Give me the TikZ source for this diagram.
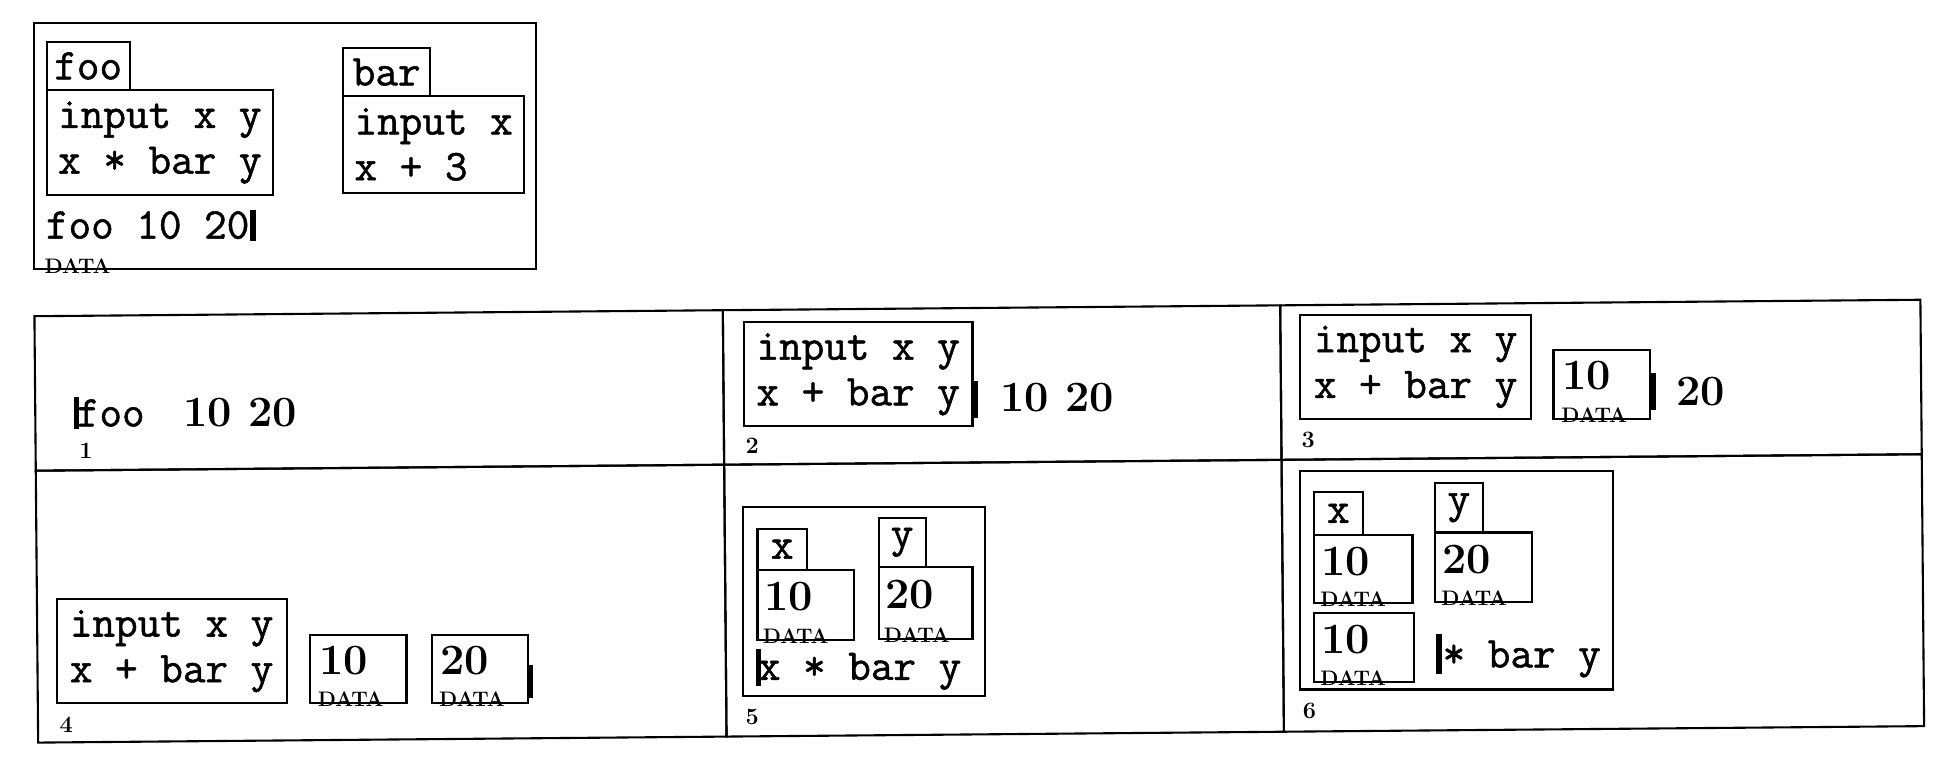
\documentclass[tikz,border=0pt]{standalone}
\usepackage{fontspec}
\usepackage{graphicx}
\newfontfamily\codeff[FakeBold=1.2]{Latin Modern Mono}
\newcommand\codefont{\fontsize{35.5}{37}\selectfont\codeff}
\newcommand\numfont{\fontsize{35}{37}\selectfont\rmfamily\bfseries}
\newcommand\datafont{\fontsize{17}{17}\selectfont\rmfamily\bfseries}
\newcommand\panelfont{\fontsize{19}{19}\selectfont\rmfamily\bfseries}
\newcommand\DATA{DATA}
\tikzset{
  box/.style={draw, line width=1.7pt, anchor=north west, inner sep=0pt, align=left, font=\codefont},
  tx/.style={anchor=base west, inner sep=0pt},
  code/.style={tx, font=\codefont},
  num/.style={tx, font=\numfont},
  dlab/.style={tx, font=\datafont},
  plab/.style={tx, font=\panelfont},
  cursor/.style={fill=black}
}
% \bx[opts]{name}{x1}{y1}{x2}{y2}{text}
\newcommand\bx[7][]{\node[box,#1,minimum width={#5-#3},minimum height={#6-#4}] (#2) at (#3,#4) {#7};}
\begin{document}
\begin{tikzpicture}[x=1pt,y=-1pt]
\useasboundingbox (0,0) rectangle (1568,626);
% ---------------- top box ----------------
\node[dlab] (topdata) at (36,221) {\DATA};
\bx{top}{27}{18}{433}{217}{}
\bx{footab}{37}{33}{104}{72}{foo}
\bx{foobody}{37}{72}{220}{157}{input x y\\x * bar y}
\bx{bartab}{277}{38}{347}{77}{bar}
\bx{barbody}{277}{77}{423}{155}{input x\\x + 3}
\node[code] (topcall) at (37,193) {foo 10 20};
\fill[cursor] (202,170) rectangle (207,195);
% ---------------- grid cells (scan is slightly tilted) ----------------
\begin{scope}[rotate around={0.5:(27,255)}, transform shape]
\bx{c1}{27}{255}{584}{380}{}
\bx{c2}{584}{255}{1035}{380}{}
\bx{c3}{1035}{255}{1553}{380}{}
\bx{c4}{27}{380}{584}{600}{}
\bx{c5}{584}{380}{1035}{600}{}
\bx{c6}{1035}{380}{1553}{600}{}
\end{scope}
% ---------------- panel 1 ----------------
\node[code] (p1foo) at (62,345) {foo};
\node[num] (p1args) at (148,345) {10 20};
\fill[cursor] (60,321) rectangle (64,347);
\node[plab] (p1n) at (64,371) {1};
% ---------------- panel 2 ----------------
\bx{p2body}{601}{260}{786}{344}{input x y\\x + bar y}
\fill[cursor] (786,308) rectangle (791,338);
\node[num] (p2args) at (809,333) {10 20};
\node[plab] (p2n) at (603,367) {2};
% ---------------- panel 3 ----------------
\bx{p3body}{1051}{254}{1238}{338}{input x y\\x + bar y}
\node[num] (p3v) at (1264,315) {10};
\node[dlab] (p3d) at (1263,342) {\DATA};
\bx{p3box}{1256}{282}{1334}{338}{}
\fill[cursor] (1334,302) rectangle (1340,332);
\node[num] (p3arg) at (1356,328) {20};
\node[plab] (p3n) at (1053,362) {3};
% ---------------- panel 4 ----------------
\bx{p4body}{45}{484}{231}{568}{input x y\\x + bar y}
\node[num] (p4v1) at (258,546) {10};
\node[dlab] (p4d1) at (257,572) {\DATA};
\bx{p4box1}{250}{513}{328}{568}{}
\node[num] (p4v2) at (356,546) {20};
\node[dlab] (p4d2) at (355,572) {\DATA};
\bx{p4box2}{349}{513}{426}{568}{}
\fill[cursor] (426,538) rectangle (431,565);
\node[plab] (p4n) at (48,593) {4};
% ---------------- panel 5 ----------------
\bx{p5frame}{600}{409}{796}{562}{}
\bx{p5xtab}{612}{427}{652}{460}{x}
\bx{p5ytab}{710}{418}{748}{458}{y}
\node[num] (p5v1) at (618,494) {10};
\node[dlab] (p5d1) at (617,521) {\DATA};
\bx{p5box1}{612}{460}{690}{517}{}
\node[num] (p5v2) at (716,492) {20};
\node[dlab] (p5d2) at (715,520) {\DATA};
\bx{p5box2}{710}{458}{786}{516}{}
\node[code] (p5expr) at (613,550) {x * bar y};
\fill[cursor] (612,525) rectangle (616,555);
\node[plab] (p5n) at (603,586) {5};
% ---------------- panel 6 ----------------
\bx{p6frame}{1051}{380}{1304}{557}{}
\bx{p6xtab}{1062}{397}{1102}{432}{x}
\bx{p6ytab}{1160}{390}{1199}{430}{y}
\node[num] (p6v1) at (1069,466) {10};
\node[dlab] (p6d1) at (1068,491) {\DATA};
\bx{p6box1}{1062}{432}{1142}{487}{}
\node[num] (p6v2) at (1167,464) {20};
\node[dlab] (p6d2) at (1166,490) {\DATA};
\bx{p6box2}{1160}{430}{1239}{486}{}
\node[num] (p6v3) at (1069,529) {10};
\node[dlab] (p6d3) at (1068,555) {\DATA};
\bx{p6box3}{1062}{495}{1143}{551}{}
\fill[cursor] (1162,513) rectangle (1167,545);
\node[code] (p6expr) at (1167,540) {* bar y};
\node[plab] (p6n) at (1054,581) {6};
\end{tikzpicture}
\end{document}
